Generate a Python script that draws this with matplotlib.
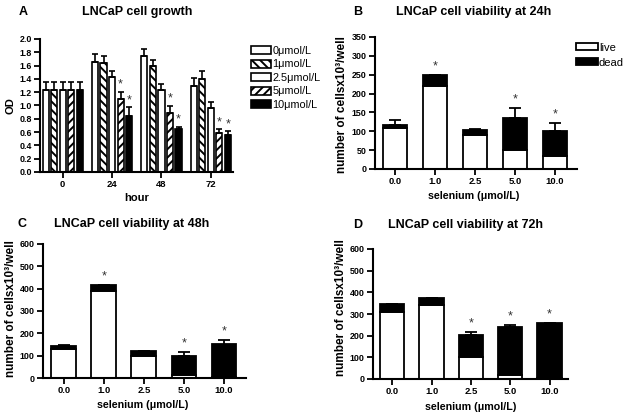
import matplotlib
matplotlib.use("Agg")
import matplotlib.pyplot as plt
import numpy as np
from matplotlib.patches import Patch

plt.rcParams['font.family'] = ['Liberation Sans', 'DejaVu Sans']
plt.rcParams['hatch.linewidth'] = 1.4
plt.rcParams['axes.linewidth'] = 1.5

# ---- Panel A data ----
hours = ["0", "24", "48", "72"]
conc_labels = ["0\u03bcmol/L", "1\u03bcmol/L", "2.5\u03bcmol/L", "5\u03bcmol/L", "10\u03bcmol/L"]
od_0 = [1.23, 1.66, 1.75, 1.30]
od_1 = [1.23, 1.64, 1.59, 1.40]
od_25 = [1.23, 1.43, 1.23, 0.96]
od_5 = [1.23, 1.10, 0.88, 0.58]
od_10 = [1.23, 0.84, 0.64, 0.55]
err_0 = [0.12, 0.11, 0.10, 0.12]
err_1 = [0.12, 0.10, 0.10, 0.12]
err_25 = [0.12, 0.09, 0.10, 0.09]
err_5 = [0.12, 0.10, 0.11, 0.06]
err_10 = [0.12, 0.13, 0.04, 0.06]
star_A = [[False]*4, [False]*4, [False]*4, [False, True, True, True], [False, True, True, True]]

# ---- Panels B-D data ----
selenium = ["0.0", "1.0", "2.5", "5.0", "10.0"]
live_24 = [108, 221, 89, 51, 35]
total_24 = [116, 250, 103, 134, 102]
err_24 = [14, 0, 4, 28, 20]
star_24 = [False, True, False, True, True]

live_48 = [132, 390, 98, 15, 4]
total_48 = [144, 418, 120, 98, 150]
err_48 = [2, 0, 2, 20, 18]
star_48 = [False, True, False, True, True]

live_72 = [308, 343, 102, 20, 3]
total_72 = [347, 376, 204, 240, 259]
err_72 = [0, 0, 11, 8, 1]
star_72 = [False, False, True, True, True]

W, H = 627, 418
fig = plt.figure(figsize=(6.27, 4.18), dpi=100)

def box(l, r, t, b):
    return [l / W, 1 - b / H, (r - l) / W, (b - t) / H]

axA = fig.add_axes(box(40, 233, 39, 172))
axB = fig.add_axes(box(375, 577, 37, 169))
axC = fig.add_axes(box(43, 246, 244, 378))
axD = fig.add_axes(box(373, 568, 249, 379))

def style(ax):
    for s in ['top', 'right']:
        ax.spines[s].set_visible(False)
    ax.tick_params(axis='both', direction='out', length=4, width=1.3, pad=2)
    ax.tick_params(axis='x', labelsize=6.8)
    ax.tick_params(axis='y', labelsize=6.4)
    for lab in ax.get_xticklabels() + ax.get_yticklabels():
        lab.set_fontweight('bold')

# ---- Panel A ----
series = [od_0, od_1, od_25, od_5, od_10]
errs = [err_0, err_1, err_25, err_5, err_10]
faces = ['white', 'white', 'white', 'white', 'black']
hatches = [None, '\\\\\\\\', None, '////', None]
x = np.arange(len(hours))
slot = 0.173
bw = 0.125
for i, (vals, e) in enumerate(zip(series, errs)):
    xi = x + (i - 2) * slot
    axA.bar(xi, vals, width=bw, color=faces[i], edgecolor='black', linewidth=1.2,
            hatch=hatches[i], zorder=2)
    axA.errorbar(xi, vals, yerr=[np.zeros(len(vals)), e], fmt='none', ecolor='black',
                 elinewidth=1.2, capsize=2.2, capthick=1.2, zorder=3)
    for j in range(len(vals)):
        if star_A[i][j]:
            axA.text(xi[j], vals[j] + e[j] + 0.02, '*', ha='center', va='bottom',
                     fontsize=9, color='#333333')
axA.set_xlim(-0.46, 3.45)
axA.set_ylim(0, 2.0)
axA.set_yticks(np.arange(0, 2.01, 0.2))
axA.set_yticklabels([f"{v:.1f}" for v in np.arange(0, 2.01, 0.2)])
axA.set_xticks(x)
axA.set_xticklabels(hours)
style(axA)
axA.set_xlabel('hour', fontsize=8, fontweight='bold')
axA.set_ylabel('OD', fontsize=8, fontweight='bold')
axA.xaxis.set_label_coords(0.5, -0.160)
axA.yaxis.set_label_coords(-0.125, 0.5)
handles = [Patch(facecolor=faces[i], edgecolor='black', linewidth=1.2, hatch=hatches[i])
           for i in range(5)]
axA.legend(handles, conc_labels, loc='upper left', bbox_to_anchor=(1.07, 0.98),
           frameon=False, fontsize=7.8, handlelength=1.9, handleheight=0.75,
           handletextpad=0.1, labelspacing=0.32, borderaxespad=0)

# ---- Panels B-D ----
def stacked(ax, live, total, err, stars, ylim, step, xlim, xl, yl):
    xs = np.arange(len(selenium))
    dead = [t - l for t, l in zip(total, live)]
    ax.bar(xs, live, width=0.62, color='white', edgecolor='black', linewidth=1.3, zorder=2)
    ax.bar(xs, dead, bottom=live, width=0.62, color='black', edgecolor='black',
           linewidth=1.3, zorder=2)
    ax.errorbar(xs, total, yerr=[np.zeros(len(total)), err], fmt='none', ecolor='black',
                elinewidth=1.3, capsize=4, capthick=1.3, zorder=3)
    for j in range(len(xs)):
        if stars[j]:
            ax.text(xs[j], total[j] + err[j] + ylim * 0.02, '*', ha='center', va='bottom',
                    fontsize=9, color='#333333')
    ax.set_xlim(*xlim)
    ax.set_ylim(0, ylim)
    ax.set_yticks(np.arange(0, ylim + 1, step))
    ax.set_xticks(xs)
    ax.set_xticklabels(selenium)
    style(ax)
    ax.set_xlabel('selenium (\u03bcmol/L)', fontsize=7.7, fontweight='bold')
    ax.set_ylabel('number of cellsx10\u00b3/well', fontsize=8.5, fontweight='bold')
    ax.xaxis.set_label_coords(*xl)
    ax.yaxis.set_label_coords(*yl)

stacked(axB, live_24, total_24, err_24, star_24, 350, 50, (-0.5, 4.55), (0.49, -0.170), (-0.132, 0.49))
stacked(axC, live_48, total_48, err_48, star_48, 600, 100, (-0.52, 4.55), (0.49, -0.167), (-0.128, 0.52))
stacked(axD, live_72, total_72, err_72, star_72, 600, 100, (-0.49, 4.47), (0.5, -0.180), (-0.135, 0.55))

hB = [Patch(facecolor='white', edgecolor='black', linewidth=1.3),
      Patch(facecolor='black', edgecolor='black', linewidth=1.3)]
axB.legend(hB, ['live', 'dead'], loc='upper left', bbox_to_anchor=(0.973, 0.99),
           frameon=False, fontsize=8, handlelength=2.0, handleheight=0.6,
           handletextpad=0.05, labelspacing=0.45, borderaxespad=0)

# titles and panel letters
def ftext(px, py, s, **kw):
    fig.text(px / W, 1 - py / H, s, **kw)

tkw = dict(fontsize=9, fontweight='bold', ha='center', va='center')
ftext(137, 12, 'LNCaP cell growth', **tkw)
ftext(474, 12, 'LNCaP cell viability at 24h', **tkw)
ftext(132, 224, 'LNCaP cell viability at 48h', **tkw)
ftext(465, 225, 'LNCaP cell viability at 72h', **tkw)
lkw = dict(fontsize=9, fontweight='bold', ha='center', va='center')
ftext(23, 12, 'A', **lkw)
ftext(358, 12, 'B', **lkw)
ftext(22, 224, 'C', **lkw)
ftext(358, 225, 'D', **lkw)

fig.savefig('out.png', dpi=100)
